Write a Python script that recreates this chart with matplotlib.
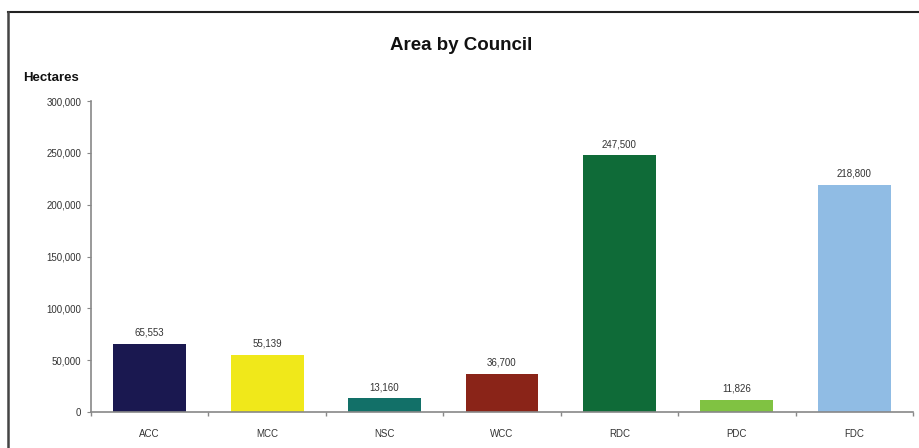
import matplotlib
matplotlib.use("Agg")
import matplotlib.pyplot as plt
from matplotlib.lines import Line2D
from matplotlib.ticker import FuncFormatter, FixedLocator

categories = ["ACC", "MCC", "NSC", "WCC", "RDC", "PDC", "FDC"]
values = [65553, 55139, 13160, 36700, 247500, 11826, 218800]
value_labels = ["65,553", "55,139", "13,160", "36,700", "247,500", "11,826", "218,800"]
colors = ["#1a1850", "#f0e81a", "#127068", "#8a2418", "#0f6b38", "#80c242", "#90bce4"]

plt.rcParams['font.family'] = ['Liberation Sans', 'DejaVu Sans']

fig = plt.figure(figsize=(9.2, 4.48), dpi=100)
ax = fig.add_axes([91/920, 1-412/448, (913-91)/920, (412-101)/448])

x = list(range(len(categories)))
ax.bar(x, values, width=0.62, color=colors)
for xi, v, lab in zip(x, values, value_labels):
    ax.text(xi, v + 6000, lab, ha='center', va='bottom', fontsize=7, color='#333333')

ax.set_xlim(-0.5, len(categories) - 0.5)
ax.set_ylim(0, 300000)
ax.set_yticks(range(0, 300001, 50000))
ax.yaxis.set_major_formatter(FuncFormatter(lambda v, p: f"{int(v):,}"))
ax.set_xticks(x)
ax.set_xticklabels(categories)
ax.xaxis.set_minor_locator(FixedLocator([i + 0.5 for i in range(-1, len(categories))]))
ax.tick_params(axis='x', which='major', length=0, labelsize=7, pad=12, colors='#333333')
ax.tick_params(axis='x', which='minor', length=3, color='#888888', width=1)
ax.tick_params(axis='y', length=3, color='#888888', labelsize=7, labelcolor='#333333', pad=4)

for s in ['top', 'right']:
    ax.spines[s].set_visible(False)
for s in ['left', 'bottom']:
    ax.spines[s].set_color('#888888')
    ax.spines[s].set_linewidth(1.2)

fig.text(461/920, 1-45/448, "Area by Council", ha='center', va='center', fontsize=13.5, fontweight='bold', color='#111111')
fig.text(23/920, 1-78/448, "Hectares", ha='left', va='center', fontsize=9.5, fontweight='bold', color='#111111')

# outer frame (cropped at right and bottom)
fig.add_artist(Line2D([8/920, 1.0], [1-12/448, 1-12/448], transform=fig.transFigure, color='#222222', lw=1.5))
fig.add_artist(Line2D([8/920, 8/920], [0, 1-12/448], transform=fig.transFigure, color='#444444', lw=1.8))

fig.savefig("out.png", dpi=100)
